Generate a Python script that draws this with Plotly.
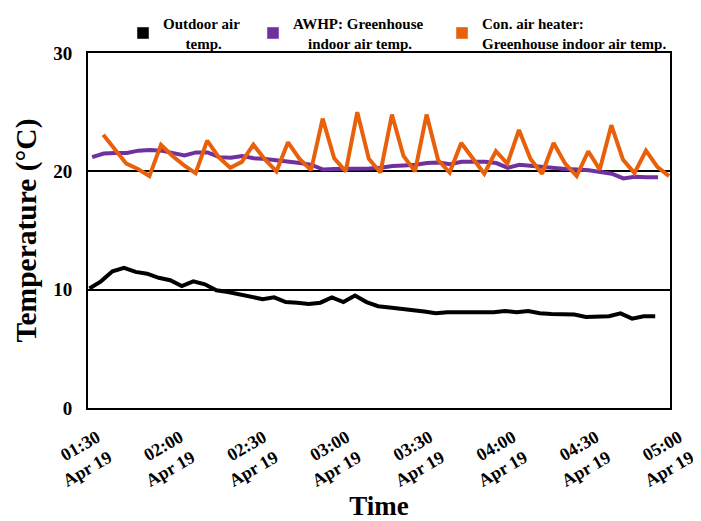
import pandas as pd
import plotly.graph_objects as go

# ---- data ----
series_names = [
    "Outdoor air<br>\u00a0\u00a0\u00a0\u00a0\u00a0\u00a0temp.",
    "AWHP: Greenhouse<br>\u00a0\u00a0\u00a0\u00a0indoor air temp.",
    "Con. air heater:<br>Greenhouse indoor air temp.",
]
series_colors = ["#000000", "#7030A0", "#E8600A"]

outdoor_temp = [10.1, 10.7, 11.55, 11.85, 11.5, 11.35, 11.0, 10.8, 10.3, 10.7,
                10.45, 9.95, 9.8, 9.6, 9.4, 9.2, 9.35, 8.95, 8.9, 8.8,
                8.9, 9.35, 8.95, 9.5, 8.95, 8.6, 8.5, 8.4, 8.3, 8.15,
                8.0, 8.1, 8.1, 8.1, 8.1, 8.1, 8.2, 8.1, 8.2, 8.0,
                7.95, 7.95, 7.9, 7.7, 7.75, 7.75, 8.0, 7.55, 7.75, 7.75]

awhp_temp = [21.2, 21.5, 21.55, 21.55, 21.75, 21.8, 21.75, 21.55, 21.35, 21.6,
             21.6, 21.2, 21.15, 21.3, 21.1, 21.05, 20.95, 20.8, 20.7, 20.55,
             20.15, 20.2, 20.2, 20.2, 20.25, 20.3, 20.45, 20.5, 20.55, 20.7,
             20.75, 20.6, 20.8, 20.8, 20.8, 20.7, 20.3, 20.55, 20.45, 20.35,
             20.3, 20.2, 20.15, 20.1, 19.95, 19.8, 19.4, 19.55, 19.5, 19.5]

heater_temp = [23.1, 21.9, 20.65, 20.2, 19.6, 22.25, 21.3, 20.5, 19.85, 22.6,
               21.2, 20.3, 20.8, 22.25, 21.0, 20.0, 22.45, 21.05, 20.1, 24.45,
               21.1, 20.0, 25.0, 21.05, 19.9, 24.8, 21.3, 20.0, 24.8, 20.95,
               19.9, 22.4, 21.05, 19.8, 21.7, 20.65, 23.5, 21.05, 19.8, 22.4,
               20.65, 19.6, 21.7, 20.15, 23.9, 21.0, 19.85, 21.75, 20.35, 19.6]

sample_interval = "250s"
outdoor_start = "2023-04-19 01:30:30"
awhp_start = "2023-04-19 01:31:30"
heater_start = "2023-04-19 01:35:30"

tick_times = ["2023-04-19 01:30", "2023-04-19 02:00", "2023-04-19 02:30",
              "2023-04-19 03:00", "2023-04-19 03:30", "2023-04-19 04:00",
              "2023-04-19 04:30", "2023-04-19 05:00"]
y_ticks = [0, 10, 20, 30]

# ---- figure ----
t_out = pd.date_range(outdoor_start, periods=len(outdoor_temp), freq=sample_interval)
t_awhp = pd.date_range(awhp_start, periods=len(awhp_temp), freq=sample_interval)
t_heat = pd.date_range(heater_start, periods=len(heater_temp), freq=sample_interval)

FONT = "Liberation Serif, Times New Roman, serif"
W, H = 693, 513  # page body keeps an 8 px margin inside the 701x521 window

fig = go.Figure()
for t, vals, col in [(t_out, outdoor_temp, series_colors[0]),
                     (t_awhp, awhp_temp, series_colors[1]),
                     (t_heat, heater_temp, series_colors[2])]:
    fig.add_trace(go.Scatter(x=t, y=vals, mode="lines",
                             line=dict(color=col, width=4),
                             showlegend=False, hoverinfo="skip"))

# legend swatches (filled boxes as in the reference), one legend per entry
legend_ids = ["legend", "legend2", "legend3"]
for name, col, lid in zip(series_names, series_colors, legend_ids):
    fig.add_trace(go.Bar(x=[None], y=[None], name=name, marker_color=col,
                         showlegend=True, legend=lid))

legend_style = dict(orientation="h", yref="container", xref="container",
                    yanchor="middle", y=(H - 25) / H, xanchor="left",
                    bgcolor="rgba(0,0,0,0)",
                    font=dict(family=FONT, size=15, color="#000", weight="bold"))

fig.update_layout(
    width=W, height=H,
    margin=dict(l=80, r=31, t=45, b=113, autoexpand=False),
    paper_bgcolor="white", plot_bgcolor="white",
    font=dict(family=FONT, color="#000", weight="bold"),
    legend=dict(legend_style, x=115 / W),
    legend2=dict(legend_style, x=245 / W),
    legend3=dict(legend_style, x=434 / W),
    xaxis=dict(
        type="date",
        range=[tick_times[0], tick_times[-1]],
        tickvals=tick_times,
        tickformat="%H:%M<br>%b %d",
        tickangle=-30,
        ticklabelshift=9,
        ticklabelstandoff=10,
        ticklabeloverflow="allow",
        tickfont=dict(family=FONT, size=18, color="#000", weight="bold"),
        showgrid=False, zeroline=False,
        showline=True, linecolor="#000", linewidth=2, mirror=True,
        ticks="", automargin=False,
        title=dict(text="\u00a0\u00a0\u00a0Time",
                   font=dict(family=FONT, size=27, color="#000", weight="bold"),
                   standoff=12),
    ),
    yaxis=dict(
        range=[0, 30],
        tickvals=y_ticks,
        tickfont=dict(family=FONT, size=19, color="#000", weight="bold"),
        showgrid=True, gridcolor="#000", gridwidth=1.5,
        zeroline=False,
        showline=True, linecolor="#000", linewidth=2, mirror=True,
        ticks="", ticklabelstandoff=10, automargin=False,
        title=dict(text="Temperature (°C)", font=dict(family=FONT, size=29.5, color="#000", weight="bold"),
                   standoff=8),
    ),
)

fig.write_html("out.html")
